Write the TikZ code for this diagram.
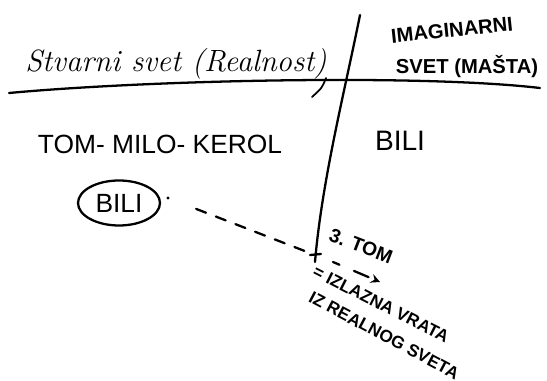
\documentclass[tikz,border=0pt]{standalone}
\usepackage{fontspec}
\setsansfont{Liberation Sans}
\tikzset{>=stealth}
\usetikzlibrary{shapes,positioning,arrows.meta}
\colorlet{background}{white}
\colorlet{penColor}{black}
\tikzset{
  pen/.style={penColor, line width=1.3pt, line cap=round},
  caps/.style={penColor, font=\sffamily\bfseries, inner sep=0pt},
  slant/.style={caps, anchor=west},
}

\begin{document}
\begin{tikzpicture}[x=0.02cm, y=-0.02cm]
\useasboundingbox (0,0) rectangle (547,381);
\draw[pen] (9,93) .. controls (150,80) and (420,74) .. (540,88);
\draw[pen] (360,15) .. controls (345,90) and (322,180) .. (315,262);
\draw[pen] (310,255) -- (321,254);
\coordinate (gate) at (315,255);
\node [penColor, font=\itshape\fontsize{17.5}{20}\selectfont, inner sep=0pt] (real) at (176,64) {Stvarni svet (Realnost)};
\draw[pen, line width=1pt] (326,78) .. controls (322,88) .. (312,97);
\node [caps, font=\sffamily\bfseries\fontsize{11.5}{13}\selectfont, rotate=6] (imag) at (452,30) {IMAGINARNI};
\node [caps, font=\sffamily\bfseries\fontsize{11.5}{13}\selectfont] (imagsub) at (467,67) {SVET (MAŠTA)};
\node [caps, font=\sffamily\fontsize{15}{17}\selectfont] (trio) at (160,144) {TOM- MILO- KEROL};
\node [caps, font=\sffamily\fontsize{16}{18}\selectfont] (bilir) at (400,141) {BILI};
\node [draw, ellipse, pen, font=\sffamily\fontsize{15}{17}\selectfont, minimum width=1.64cm, minimum height=0.9cm, inner sep=0pt] (bili) at (119,203) {BILI};
\node [penColor, fill, circle, inner sep=0.7pt] (dot) at (168,198) {};
\draw[pen, dash pattern=on 6pt off 6pt, shorten <=16pt, shorten >=5pt] (dot) -- (gate);
\node [slant, font=\sffamily\bfseries\fontsize{11}{13}\selectfont, rotate=-21] (tom) at (330,234) {3. TOM};
\coordinate (arrS) at (333,262);
\coordinate (arrE) at (380,282);
\draw[pen, ->, dash pattern=on 4pt off 9pt on 9pt] (arrS) -- (arrE);
\node [slant, font=\sffamily\bfseries\fontsize{9.8}{12}\selectfont, rotate=-27] (gateA) at (314,270) {= IZLAZNA VRATA};
\node [slant, font=\sffamily\bfseries\fontsize{9.8}{12}\selectfont, rotate=-28] (gateB) at (310,296) {IZ REALNOG SVETA};
\end{tikzpicture}
\end{document}
